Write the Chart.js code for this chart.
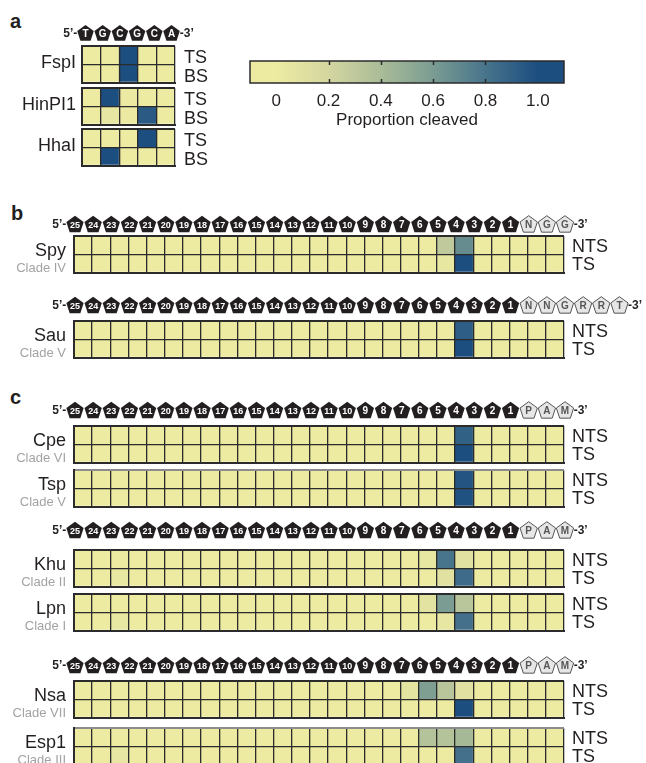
<!DOCTYPE html>
<html>
<head>
<meta charset="utf-8">
<script src="https://cdn.jsdelivr.net/npm/chart.js@4.4.1/dist/chart.umd.min.js"></script>
<style>
  html, body { margin: 0; padding: 0; background: #fff; overflow: hidden; }
  #fig { position: relative; width: 646px; height: 763px; overflow: hidden;
         font-family: "Liberation Sans", Arial, sans-serif; color: #231f20; }
  #fig canvas { position: absolute; }
  .panel { position: absolute; font-weight: bold; font-size: 20px; line-height: 20px; }
</style>
</head>
<body>
<div id="fig">
  <div class="panel" style="left:10px;top:11px">a</div>
  <div class="panel" style="left:11px;top:203px">b</div>
  <div class="panel" style="left:10px;top:387px">c</div>
</div>
<script>
// ---- data ----
// panel a: 5 phosphodiester positions between T G C G C A
const colsA = ['T-G', 'G-C', 'C-G', 'G-C', 'C-A'];
const seqA = ['T', 'G', 'C', 'G', 'C', 'A'];
const fspiTS   = [0, 0, 1, 0, 0];
const fspiBS   = [0, 0, 1, 0, 0];
const hinp1TS  = [0, 1, 0.02, 0, 0];
const hinp1BS  = [0, 0.05, 0.02, 0.93, 0];
const hhaiTS   = [0, 0, 0, 1, 0];
const hhaiBS   = [0, 1, 0, 0, 0];

// panels b, c: 27 positions between protospacer nt 25..1 and the PAM
const colsB = ['25|24', '24|23', '23|22', '22|21', '21|20', '20|19', '19|18', '18|17', '17|16',
               '16|15', '15|14', '14|13', '13|12', '12|11', '11|10', '10|9', '9|8', '8|7', '7|6',
               '6|5', '5|4', '4|3', '3|2', '2|1', '1|P1', 'P1|P2', 'P2|P3'];
const protoNums = ['25', '24', '23', '22', '21', '20', '19', '18', '17', '16', '15', '14', '13',
                   '12', '11', '10', '9', '8', '7', '6', '5', '4', '3', '2', '1'];
const pamSpy = ['N', 'G', 'G'];
const pamSau = ['N', 'N', 'G', 'R', 'R', 'T'];
const pamC   = ['P', 'A', 'M'];

const spyNTS = [0,0,0,0,0, 0,0,0,0,0, 0,0,0,0,0, 0,0,0,0,0, 0.3,0.68,0,0,0, 0,0];
const spyTS  = [0,0,0,0,0, 0,0,0,0,0, 0,0,0,0,0, 0,0,0,0,0, 0.04,1,0,0,0, 0,0];
const sauNTS = [0,0,0,0,0, 0,0,0,0,0, 0,0,0,0,0, 0,0,0,0,0, 0,0.92,0,0,0, 0,0];
const sauTS  = [0,0,0,0,0, 0,0,0,0,0, 0,0,0,0,0, 0,0,0,0,0, 0,1,0,0,0, 0,0];
const cpeNTS = [0,0,0,0,0, 0,0,0,0,0, 0,0,0,0,0, 0,0,0,0,0, 0,0.9,0,0,0, 0,0];
const cpeTS  = [0,0,0,0,0, 0,0,0,0,0, 0,0,0,0,0, 0,0,0,0,0, 0,1,0,0,0, 0,0];
const tspNTS = [0,0,0,0,0, 0,0,0,0,0, 0,0,0,0,0, 0,0,0,0,0, 0,0.97,0,0,0, 0,0];
const tspTS  = [0,0,0,0,0, 0,0,0,0,0, 0,0,0,0,0, 0,0,0,0,0, 0,0.98,0,0,0, 0,0];
const khuNTS = [0,0,0,0,0, 0,0,0,0,0, 0,0,0,0,0, 0,0,0,0,0.04, 0.8,0.1,0,0,0, 0,0];
const khuTS  = [0,0,0.03,0,0, 0,0,0,0,0, 0,0,0,0,0, 0,0,0,0,0, 0.1,0.85,0,0,0, 0,0];
const lpnNTS = [0,0,0,0,0, 0,0,0,0,0, 0,0,0,0,0, 0,0,0,0,0.08, 0.6,0.33,0,0,0, 0,0];
const lpnTS  = [0,0,0.03,0,0, 0,0,0,0,0, 0,0,0,0,0, 0,0,0,0,0, 0.05,0.82,0,0,0, 0,0];
const nsaNTS = [0,0,0,0,0, 0,0,0,0,0, 0,0,0,0,0, 0,0,0,0.07,0.58, 0.33,0.1,0,0,0, 0,0];
const nsaTS  = [0,0,0,0,0, 0,0,0,0,0, 0,0,0,0,0, 0,0,0,0,0, 0,1,0,0,0, 0,0];
const esp1NTS = [0,0,0,0,0, 0,0,0,0,0, 0,0,0,0,0, 0,0,0,0,0.35, 0.35,0.42,0,0,0, 0,0];
const esp1TS  = [0,0,0.05,0,0, 0,0,0,0,0, 0,0,0,0,0, 0,0,0,0,0, 0,0.82,0,0,0, 0,0];

const cbTicks = [0, 0.2, 0.4, 0.6, 0.8, 1.0];
// colour map stops (value -> rgb)
const cmapStops = [0, 0.2, 0.4, 0.6, 0.8, 1.0];
const cmapRGB = [[237, 235, 162], [212, 214, 160], [170, 188, 152], [122, 156, 146], [72, 116, 140], [28, 78, 128]];

// ---- helpers ----
Chart.defaults.font.family = '"Liberation Sans", Arial, sans-serif';
Chart.defaults.color = '#231f20';
const ink = '#231f20';
const lineCol = '#2b2b2b';

function cmap(v) {
  let i = 0;
  while (i < cmapStops.length - 2 && v > cmapStops[i + 1]) i++;
  const t = (v - cmapStops[i]) / (cmapStops[i + 1] - cmapStops[i]);
  const c = cmapRGB[i].map((a, k) => Math.round(a + (cmapRGB[i + 1][k] - a) * t));
  return 'rgb(' + c.join(',') + ')';
}

function pentagon(ctx, cx, cy, r) {
  ctx.beginPath();
  for (let k = 0; k < 5; k++) {
    const ang = -Math.PI / 2 + k * 2 * Math.PI / 5;
    const px = cx + r * Math.cos(ang), py = cy + r * Math.sin(ang);
    if (k) ctx.lineTo(px, py); else ctx.moveTo(px, py);
  }
  ctx.closePath();
}

const blockText = {
  id: 'blockText',
  afterDraw(chart, args, o) {
    const {ctx, chartArea: a, scales: {x, y}} = chart;
    const cw = x.getPixelForValue(1) - x.getPixelForValue(0);
    const x0 = x.getPixelForValue(0) - cw / 2;
    ctx.save();
    ctx.textBaseline = 'alphabetic';
    // row labels on the right
    ctx.font = '18px "Liberation Sans"';
    ctx.fillStyle = ink;
    ctx.textAlign = 'left';
    ctx.fillText(o.rowLabels[0], a.right + o.rgap, y.getPixelForValue(1.5) + 6.5 + o.rdy);
    ctx.fillText(o.rowLabels[1], a.right + o.rgap, y.getPixelForValue(0.5) + 6.5 + o.rdy);
    // name + clade on the left
    ctx.textAlign = 'right';
    ctx.fillText(o.name, a.left - o.ngap, a.top + o.nb);
    if (o.clade) {
      ctx.font = '13px "Liberation Sans"';
      ctx.fillStyle = '#a3a3a3';
      ctx.fillText(o.clade, a.left - o.ngap, a.bottom - 1);
    }
    // sequence header
    if (o.header) {
      const L = o.header.length;
      const step = o.step || cw;
      const start = o.step ? (x0 + (a.right - x0) / 2) - step * (L - 1) / 2 : x0 + 1;
      const cy = o.hy - chart.canvas.offsetTop;
      const r = o.r;
      o.header.forEach((lab, j) => {
        const cx = start + j * step;
        const light = j >= o.darkCount;
        pentagon(ctx, cx, cy + 0.8, r);
        ctx.fillStyle = light ? '#e6e6e6' : '#231f20';
        ctx.fill();
        if (light) { ctx.strokeStyle = '#555'; ctx.lineWidth = 1; ctx.stroke(); }
        ctx.fillStyle = light ? '#555' : '#fff';
        ctx.textAlign = 'center';
        ctx.textBaseline = 'middle';
        ctx.font = 'bold ' + (lab.length > 1 ? 9 : 10) + 'px "Liberation Sans"';
        ctx.fillText(lab, cx, cy + 1.5);
      });
      ctx.fillStyle = ink;
      ctx.font = 'bold 12px "Liberation Sans"';
      ctx.textBaseline = 'middle';
      ctx.textAlign = 'right';
      ctx.fillText("5\u2019-", start - r * 0.95, cy + 1);
      ctx.textAlign = 'left';
      ctx.fillText("-3\u2019", start + (L - 1) * step + r * 0.95, cy + 1);
    }
    ctx.restore();
  }
};

const fig = document.getElementById('fig');
const PADT = 34, PADB = 8;

function heatBlock(b) {
  const cv = document.createElement('canvas');
  const h = PADT + b.h + PADB;
  cv.width = 646; cv.height = Math.round(h);
  cv.style.left = '0px';
  cv.style.top = (b.top - PADT) + 'px';
  fig.appendChild(cv);
  const n = b.cats.length;
  new Chart(cv, {
    type: 'bar',
    data: {
      labels: b.cats,
      datasets: [
        {label: b.rowLabels[1], data: b.bottom.map(() => 1), backgroundColor: b.bottom.map(cmap),
         borderWidth: 0, barPercentage: 1, categoryPercentage: 1},
        {label: b.rowLabels[0], data: b.upper.map(() => 1), backgroundColor: b.upper.map(cmap),
         borderWidth: 0, barPercentage: 1, categoryPercentage: 1}
      ]
    },
    options: {
      responsive: false,
      animation: false,
      events: [],
      layout: {padding: {left: b.left, right: 646 - b.right, top: PADT, bottom: cv.height - PADT - b.h}},
      scales: {
        x: {
          type: 'category', stacked: true, offset: true,
          ticks: {display: false},
          grid: {offset: true, drawTicks: false, z: 1, color: lineCol,
                 lineWidth: c => (c.index === 0 || c.index === n) ? 2 : 1.3},
          border: {display: true, color: lineCol, width: 2, z: 2}
        },
        y: {
          type: 'linear', stacked: true, min: 0, max: 2,
          ticks: {display: false, stepSize: 1},
          grid: {drawTicks: false, z: 1,
                 color: c => (c.tick && c.tick.value === 2 && b.topColor) ? b.topColor : lineCol,
                 lineWidth: c => (c.tick && (c.tick.value === 0 || c.tick.value === 2)) ? 2 : 1.3},
          border: {display: true, color: lineCol, width: 2, z: 2}
        }
      },
      plugins: {
        legend: {display: false},
        tooltip: {enabled: false},
        blockText: {
          rowLabels: b.rowLabels, name: b.name, clade: b.clade,
          rgap: b.rgap, rdy: b.rdy, ngap: b.ngap, nb: b.nb,
          header: b.header, hy: b.hy, step: b.step, r: b.r || 9.1, darkCount: b.darkCount
        }
      }
    },
    plugins: [blockText]
  });
}

// ---- panel a ----
const aStyle = {cats: colsA, left: 82, right: 175, h: 36.5, rowLabels: ['TS', 'BS'],
                rgap: 9, rdy: 1.8, ngap: 6, nb: 21.5, clade: null};
heatBlock(Object.assign({}, aStyle, {name: 'FspI', top: 46, upper: fspiTS, bottom: fspiBS,
  header: seqA, hy: 33, step: 17.2, r: 8.7, darkCount: 6}));
heatBlock(Object.assign({}, aStyle, {name: 'HinPI1', top: 88, upper: hinp1TS, bottom: hinp1BS}));
heatBlock(Object.assign({}, aStyle, {name: 'HhaI', top: 129.3, upper: hhaiTS, bottom: hhaiBS}));

// ---- panels b, c ----
const bStyle = {cats: colsB, left: 74, right: 564, h: 36.5, rowLabels: ['NTS', 'TS'],
                rgap: 8, rdy: 0, ngap: 8, nb: 19.5};
const cHeader = protoNums.concat(pamC);
heatBlock(Object.assign({}, bStyle, {name: 'Spy', clade: 'Clade IV', top: 236, upper: spyNTS, bottom: spyTS,
  header: protoNums.concat(pamSpy), hy: 224, darkCount: 25}));
heatBlock(Object.assign({}, bStyle, {name: 'Sau', clade: 'Clade V', top: 321, upper: sauNTS, bottom: sauTS,
  header: protoNums.concat(pamSau), hy: 305, darkCount: 25}));
heatBlock(Object.assign({}, bStyle, {name: 'Cpe', clade: 'Clade VI', top: 426, upper: cpeNTS, bottom: cpeTS,
  header: cHeader, hy: 410, darkCount: 25}));
heatBlock(Object.assign({}, bStyle, {name: 'Tsp', clade: 'Clade V', top: 470, upper: tspNTS, bottom: tspTS,
  topColor: '#8c8c8c'}));
heatBlock(Object.assign({}, bStyle, {name: 'Khu', clade: 'Clade II', top: 549.5, upper: khuNTS, bottom: khuTS,
  header: cHeader, hy: 530, darkCount: 25}));
heatBlock(Object.assign({}, bStyle, {name: 'Lpn', clade: 'Clade I', top: 594, upper: lpnNTS, bottom: lpnTS}));
heatBlock(Object.assign({}, bStyle, {name: 'Nsa', clade: 'Clade VII', top: 681, upper: nsaNTS, bottom: nsaTS,
  header: cHeader, hy: 665, darkCount: 25}));
heatBlock(Object.assign({}, bStyle, {name: 'Esp1', clade: 'Clade III', top: 727.5, upper: esp1NTS, bottom: esp1TS,
  topColor: '#8c8c8c'}));

// ---- colour bar ----
const colorBar = {
  id: 'colorBar',
  beforeDatasetsDraw(chart) {
    const {ctx, chartArea: a, scales: {x}} = chart;
    const g = ctx.createLinearGradient(x.getPixelForValue(0), 0, x.getPixelForValue(1), 0);
    cmapStops.forEach(v => g.addColorStop(v, cmap(v)));
    ctx.save();
    ctx.fillStyle = g;
    ctx.fillRect(a.left, a.top, a.right - a.left, a.bottom - a.top);
    ctx.strokeStyle = lineCol;
    ctx.lineWidth = 1.5;
    cbTicks.slice(1, -1).forEach(v => {
      const px = Math.round(x.getPixelForValue(v)) + 0.5;
      ctx.beginPath();
      ctx.moveTo(px, a.top); ctx.lineTo(px, a.top + 4);
      ctx.moveTo(px, a.bottom); ctx.lineTo(px, a.bottom - 4);
      ctx.stroke();
    });
    ctx.strokeRect(a.left, a.top, a.right - a.left, a.bottom - a.top);
    ctx.restore();
  }
};
const cb = document.createElement('canvas');
cb.width = 360; cb.height = 85;
cb.style.left = '230px'; cb.style.top = '50px';
fig.appendChild(cb);
new Chart(cb, {
  type: 'bar',
  data: {labels: [], datasets: []},
  options: {
    responsive: false,
    animation: false,
    events: [],
    layout: {padding: {left: 20, right: 26, top: 11, bottom: 0}},
    scales: {
      x: {
        type: 'linear', min: 0, max: 1,
        afterBuildTicks: s => { s.ticks = cbTicks.map(v => ({value: v})); },
        afterFit: s => { s.height = 52; },
        ticks: {callback: v => v === 0 ? '0' : v.toFixed(1), font: {size: 17}, color: ink,
                padding: 8, maxRotation: 0, autoSkip: false},
        grid: {display: false, drawTicks: false},
        border: {display: false},
        title: {display: true, text: 'Proportion cleaved', font: {size: 17}, color: ink,
                padding: {top: 2, bottom: 4}}
      },
      y: {min: 0, max: 1, display: false}
    },
    plugins: {legend: {display: false}, tooltip: {enabled: false}}
  },
  plugins: [colorBar]
});
</script>
</body>
</html>
